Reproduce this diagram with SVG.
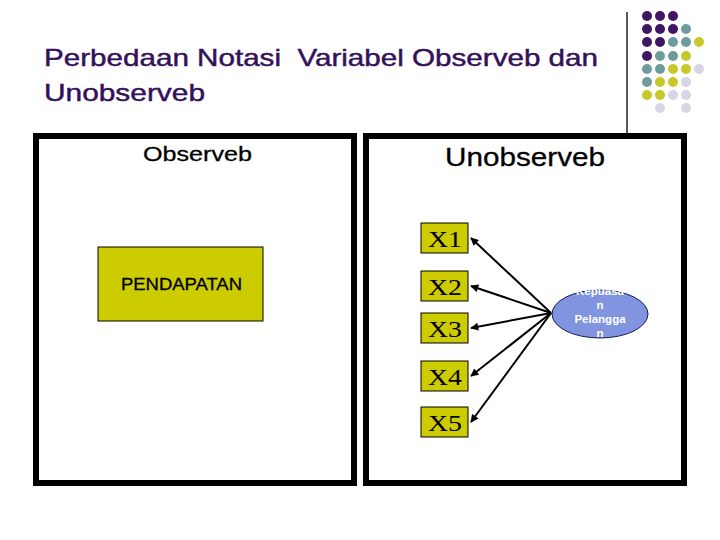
<svg xmlns="http://www.w3.org/2000/svg" width="720" height="540" viewBox="0 0 720 540">
<defs>
<style>
.title{font-family:"Liberation Sans",Arial,sans-serif;font-size:24px;fill:#33115a;stroke:#33115a;stroke-width:0.45;white-space:pre}
.frame{fill:#fff;stroke:#000;stroke-width:6}
.hdr{font-family:"Liberation Sans",Arial,sans-serif;fill:#000;stroke:#000;stroke-width:0.3}
.ybox{fill:#cccc00;stroke:#000;stroke-width:1}
.xl{font-family:"Liberation Serif","Times New Roman",serif;font-size:23px;fill:#000}
.lab{font-family:"Liberation Sans",Arial,sans-serif;font-size:11.5px;font-weight:bold;fill:#fff;text-anchor:middle}
.conn{stroke:#000;stroke-width:2;fill:none;marker-end:url(#ah)}
.p{fill:#3f1565}.t{fill:#6e9c9c}.y{fill:#c8c82a}.l{fill:#d5d5e5}
</style>
<marker id="ah" viewBox="0 0 10 10" refX="9" refY="5" markerWidth="4.5" markerHeight="4" orient="auto" markerUnits="strokeWidth">
<path d="M0,0 L10,5 L0,10 z" fill="#000"/>
</marker>
</defs>
<rect width="720" height="540" fill="#fff"/>
<g id="decor">
<line x1="627" y1="12" x2="627" y2="133" stroke="#222" stroke-width="1.5"/>
<g>
<circle class="p" cx="647" cy="16" r="5"/><circle class="p" cx="660" cy="16" r="5"/><circle class="p" cx="673" cy="16" r="5"/>
<circle class="p" cx="647" cy="29" r="5"/><circle class="p" cx="660" cy="29" r="5"/><circle class="p" cx="673" cy="29" r="5"/><circle class="t" cx="686" cy="29" r="5"/>
<circle class="p" cx="647" cy="42" r="5"/><circle class="p" cx="660" cy="42" r="5"/><circle class="t" cx="673" cy="42" r="5"/><circle class="t" cx="686" cy="42" r="5"/><circle class="y" cx="699" cy="42" r="5"/>
<circle class="p" cx="647" cy="56" r="5"/><circle class="t" cx="660" cy="56" r="5"/><circle class="t" cx="673" cy="56" r="5"/><circle class="y" cx="686" cy="56" r="5"/>
<circle class="t" cx="647" cy="69" r="5"/><circle class="t" cx="660" cy="69" r="5"/><circle class="y" cx="673" cy="69" r="5"/><circle class="y" cx="686" cy="69" r="5"/><circle class="l" cx="699" cy="69" r="5"/>
<circle class="t" cx="647" cy="82" r="5"/><circle class="y" cx="660" cy="82" r="5"/><circle class="y" cx="673" cy="82" r="5"/><circle class="l" cx="686" cy="82" r="5"/>
<circle class="y" cx="647" cy="95" r="5"/><circle class="y" cx="660" cy="95" r="5"/><circle class="l" cx="673" cy="95" r="5"/><circle class="l" cx="686" cy="95" r="5"/>
<circle class="l" cx="660" cy="108" r="5"/><circle class="l" cx="686" cy="108" r="5"/>
</g>
</g>
<g id="title">
<text class="title" x="44" y="66" textLength="554" lengthAdjust="spacingAndGlyphs">Perbedaan Notasi  Variabel Observeb dan</text>
<text class="title" x="44" y="101" textLength="161" lengthAdjust="spacingAndGlyphs">Unobserveb</text>
</g>
<g id="panel-observeb">
<rect class="frame" x="36" y="136" width="318" height="347"/>
<text class="hdr" x="143" y="161" font-size="21" textLength="109" lengthAdjust="spacingAndGlyphs">Observeb</text>
</g>
<g id="panel-unobserveb">
<rect class="frame" x="366" y="136" width="318" height="347"/>
<text class="hdr" x="445" y="166" font-size="26" textLength="160" lengthAdjust="spacingAndGlyphs">Unobserveb</text>
</g>
<g id="pendapatan">
<rect class="ybox" x="98" y="247" width="165" height="74"/>
<text class="hdr" x="121" y="290" font-size="17" stroke-width="0.15" textLength="121" lengthAdjust="spacingAndGlyphs">PENDAPATAN</text>
</g>
<g id="x1"><rect class="ybox" x="421" y="223" width="47" height="30"/><text class="xl" x="428" y="247" textLength="34" lengthAdjust="spacingAndGlyphs">X1</text></g>
<g id="x2"><rect class="ybox" x="421" y="271" width="47" height="30"/><text class="xl" x="428" y="295" textLength="34" lengthAdjust="spacingAndGlyphs">X2</text></g>
<g id="x3"><rect class="ybox" x="421" y="313" width="47" height="30"/><text class="xl" x="428" y="337" textLength="34" lengthAdjust="spacingAndGlyphs">X3</text></g>
<g id="x4"><rect class="ybox" x="421" y="361" width="47" height="30"/><text class="xl" x="428" y="385" textLength="34" lengthAdjust="spacingAndGlyphs">X4</text></g>
<g id="x5"><rect class="ybox" x="421" y="407" width="47" height="30"/><text class="xl" x="428" y="431" textLength="34" lengthAdjust="spacingAndGlyphs">X5</text></g>
<g id="connectors">
<line class="conn" x1="551" y1="313" x2="471" y2="238"/>
<line class="conn" x1="551" y1="313" x2="471" y2="286"/>
<line class="conn" x1="551" y1="313" x2="471" y2="328"/>
<line class="conn" x1="551" y1="313" x2="471" y2="376"/>
<line class="conn" x1="551" y1="313" x2="471" y2="422"/>
</g>
<g id="kepuasan">
<ellipse cx="600" cy="314" rx="48" ry="24" fill="#8094e0" stroke="#1a1a50" stroke-width="1"/>
<text class="lab" x="600" y="295">Kepuasa</text>
<text class="lab" x="600" y="309">n</text>
<text class="lab" x="600" y="323">Pelangga</text>
<text class="lab" x="600" y="337">n</text>
</g>
</svg>
